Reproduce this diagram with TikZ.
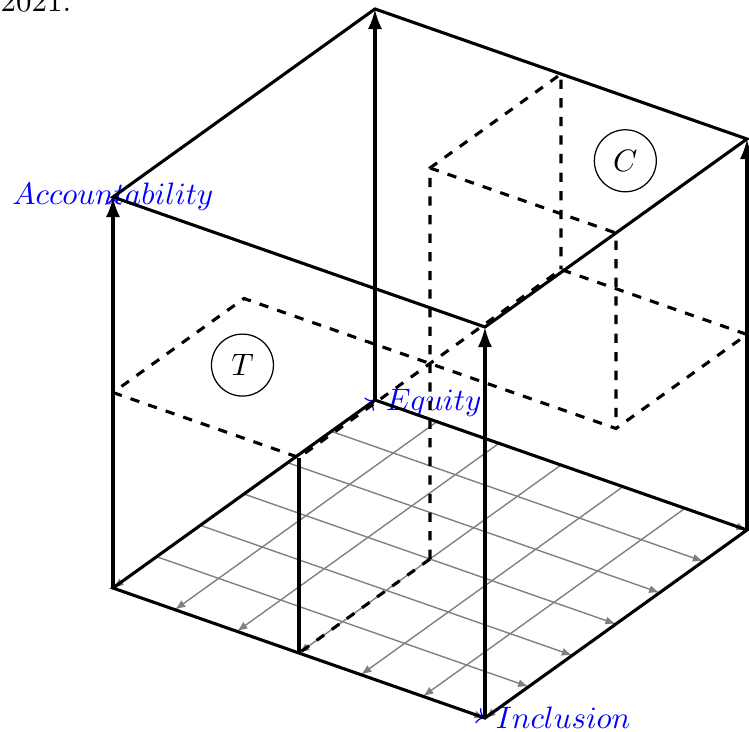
\documentclass[tikz,border=0pt]{standalone}
\usepackage{tikz}
\usetikzlibrary{arrows.meta}

\begin{document}
\begin{tikzpicture}[x={(42.18mm,-14.74mm)},y={(29.71mm,21.32mm)},z={(0mm,44.34mm)},line width=0.4pt]
  \useasboundingbox (-12.81mm,-16.22mm) rectangle (72.12mm,66.68mm);
  \node[anchor=base west,inner sep=0pt] (yr) at (-12.81mm,65.4mm) {2021.};
  \coordinate (b0) at (0,0,0);
  \coordinate (bI) at (1,0,0);
  \coordinate (bE) at (0,1,0);
  \coordinate (bIE) at (1,1,0);
  \coordinate (t0) at (0,0,1);
  \coordinate (tI) at (1,0,1);
  \coordinate (tE) at (0,1,1);
  \coordinate (tIE) at (1,1,1);
  \draw[blue,->] (b0) -- (bI) node[right] (inc) {$Inclusion$};
  \draw[blue,->] (b0) -- (bE) node[right,yshift=-1pt] (equ) {$Equity$};
  \draw[blue,->] (b0) -- (t0) node (acc) {$Accountability$};
  \foreach \k in {0,...,6}{
    \draw[gray,line width=0.45pt,-{Latex[length=3.4pt,width=2.6pt]}] (0,\k/6,0) -- (1,\k/6,0);
    \draw[gray,line width=0.45pt,-{Latex[length=3.4pt,width=2.6pt]}] (\k/6,1,0) -- (\k/6,0,0);
  }
  \draw[line width=1pt] (b0) -- (bI) -- (bIE) -- (bE) -- cycle;
  \draw[line width=1pt] (t0) -- (tI) -- (tIE) -- (tE) -- cycle;
  \foreach \c in {0,I,E,IE}
    \draw[line width=1pt,-{Latex[length=6.5pt,width=4.6pt]}] (b\c) -- (t\c);
  \draw[line width=1pt,dashed] (0,0,.5) -- (.5,0,.5) -- (.5,1,.5) -- (1,1,.5) -- (1,.5,.5) -- (0,.5,.5) -- cycle;
  \draw[line width=1pt,dashed] (.5,.5,0) -- (.5,.5,1) -- (.5,1,1) -- (.5,1,.5);
  \draw[line width=1pt,dashed] (.5,.5,1) -- (1,.5,1) -- (1,.5,.5);
  \draw[line width=1pt,dashed] (.5,.5,0) -- (.5,0,0);
  \draw[line width=1pt] (.5,0,0) -- (.5,0,.5);
  \node[draw,circle,minimum size=20pt] (T) at (.165,.26,.5) {$T$};
  \node[draw,circle,minimum size=20pt] (C) at (.835,.77,1) {$C$};
\end{tikzpicture}
\end{document}
